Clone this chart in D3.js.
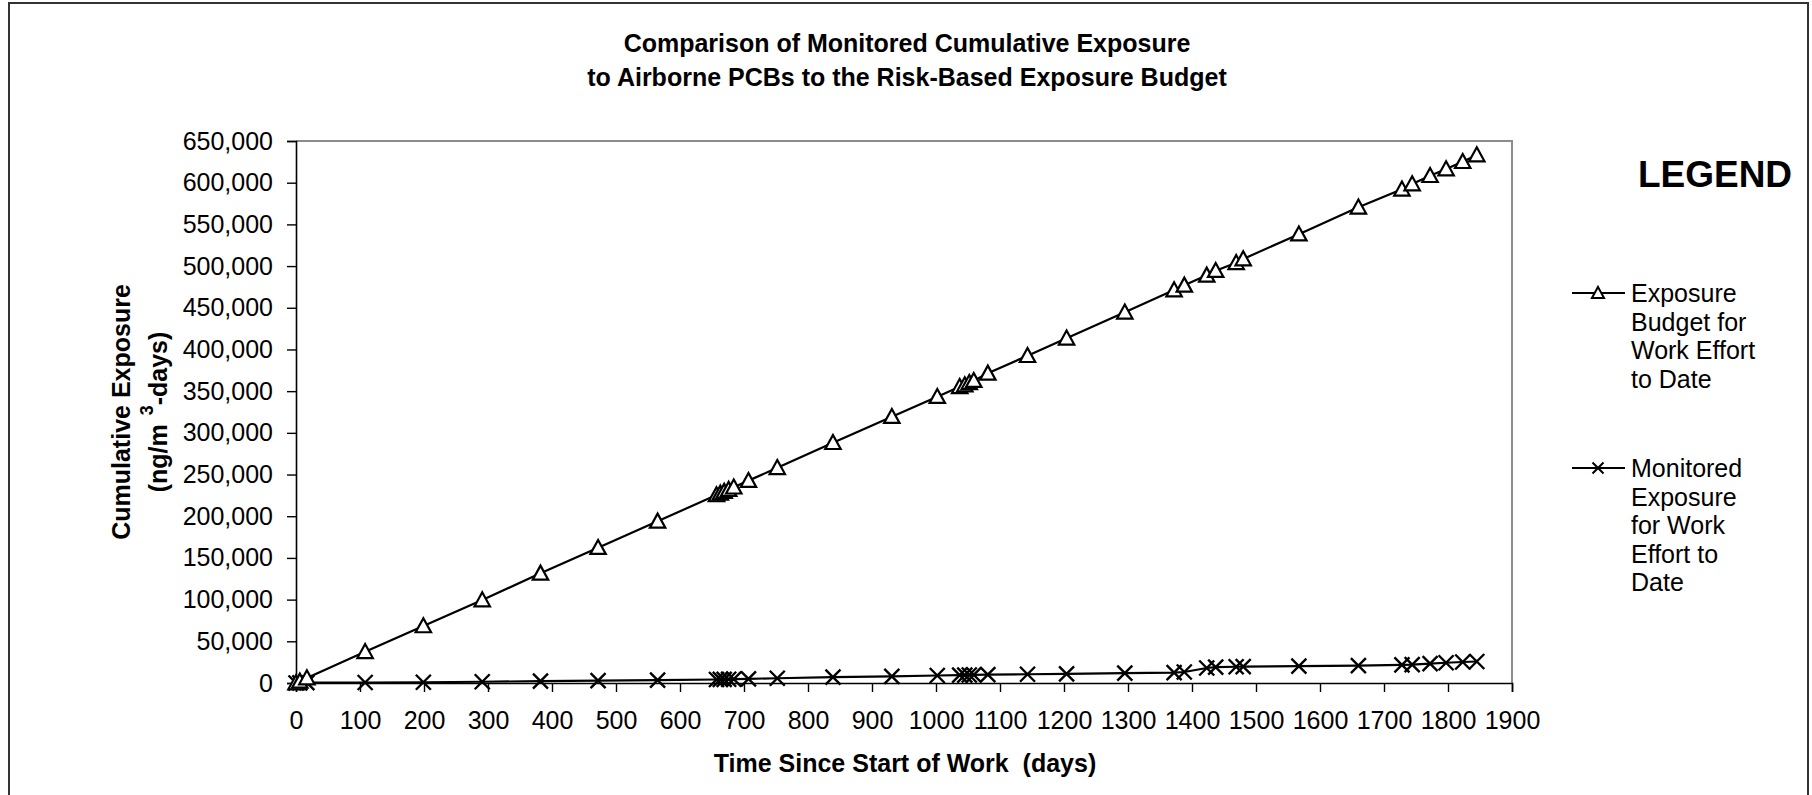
<!DOCTYPE html>
<html>
<head>
<meta charset="utf-8">
<script src="https://cdn.jsdelivr.net/npm/d3@7"></script>
<style>
  html, body { margin: 0; padding: 0; background: #fff; }
  svg { display: block; font-family: "Liberation Sans", Arial, sans-serif; }
</style>
</head>
<body>
<svg id="chart" width="1812" height="795"></svg>
<script>
// Sampling days since start of work
const days = [0, 6, 17, 108, 199, 291, 382, 472, 565, 657, 663, 669, 676, 684, 707, 752, 839, 931,
  1002, 1037, 1045, 1052, 1059, 1081, 1143, 1204, 1295, 1372, 1388, 1423, 1437, 1469, 1480,
  1567, 1660, 1728, 1744, 1772, 1797, 1823, 1845];

// Exposure budget for work effort to date (ng/m3-days)
const budget = [0, 2000, 6000, 37500, 68400, 99500, 131500, 162300, 193900, 225500, 227500, 229600,
  232000, 234800, 242700, 258100, 288200, 319400, 343400, 355300, 357400, 360100, 362600, 371400,
  392500, 413400, 444600, 471300, 476900, 488900, 494500, 504000, 508500, 538300, 570500, 592100,
  598400, 608400, 616400, 625200, 633200];

// Monitored cumulative exposure for work effort to date (ng/m3-days)
const monitored = [0, 200, 400, 600, 900, 1500, 2200, 2800, 3400, 4200, 4300, 4400, 4500, 4600,
  5000, 5700, 7000, 8000, 9000, 9400, 9500, 9600, 9700, 10000, 10500, 11000, 11800, 12500, 13200,
  18000, 19000, 19500, 19700, 20300, 20900, 21700, 22000, 23300, 24300, 25200, 25800];

const xTicks = d3.range(0, 1901, 100);
const yTicks = d3.range(0, 650001, 50000);

const titleLines = ["Comparison of Monitored Cumulative Exposure",
                    "to Airborne PCBs to the Risk-Based Exposure Budget"];
const budgetLegend = ["Exposure", "Budget for", "Work Effort", "to Date"];
const monitoredLegend = ["Monitored", "Exposure", "for Work", "Effort to", "Date"];

const svg = d3.select("#chart");
const plot = { left: 296, right: 1512, top: 141, bottom: 683 };

const x = d3.scaleLinear().domain([0, 1900]).range([plot.left, plot.right]);
const y = d3.scaleLinear().domain([0, 650000]).range([plot.bottom, plot.top]);

// outer chart frame
svg.append("rect")
  .attr("x", 9).attr("y", 3).attr("width", 1799).attr("height", 800)
  .attr("fill", "none").attr("stroke", "#333").attr("stroke-width", 2);

// title
svg.append("g").selectAll("text").data(titleLines).join("text")
  .attr("x", 907).attr("y", (d, i) => 52 + i * 33.5)
  .attr("text-anchor", "middle").attr("font-size", 25).attr("font-weight", "bold")
  .text(d => d);

// plot area border (top/right in grey)
svg.append("path")
  .attr("d", `M${plot.left},${plot.top}H${plot.right}V${plot.bottom}`)
  .attr("fill", "none").attr("stroke", "#8c8c8c").attr("stroke-width", 2);

// axes
const xAxis = d3.axisBottom(x).tickValues(xTicks).tickSize(9).tickPadding(19).tickFormat(d3.format("d"));
const yAxis = d3.axisLeft(y).tickValues(yTicks).tickSize(9).tickPadding(14).tickFormat(d3.format(",d"));

const gx = svg.append("g").attr("transform", `translate(0,${plot.bottom})`).call(xAxis);
const gy = svg.append("g").attr("transform", `translate(${plot.left},0)`).call(yAxis);
[gx, gy].forEach(g => {
  g.select(".domain").attr("stroke", "#000").attr("stroke-width", 1.6);
  g.selectAll(".tick line").attr("stroke", "#000").attr("stroke-width", 1.4);
  g.selectAll(".tick text").attr("font-size", 25).attr("fill", "#000")
    .attr("font-family", "'Liberation Sans', Arial, sans-serif");
});

// axis titles
svg.append("text")
  .attr("x", 905).attr("y", 772)
  .attr("text-anchor", "middle").attr("font-size", 25).attr("font-weight", "bold")
  .style("white-space", "pre")
  .text("Time Since Start of Work  (days)");

const yTitle = svg.append("g").attr("transform", "translate(130,412) rotate(-90)");
yTitle.append("text").attr("x", 0).attr("y", 0)
  .attr("text-anchor", "middle").attr("font-size", 25).attr("font-weight", "bold")
  .text("Cumulative Exposure");
const unit = yTitle.append("text").attr("x", 0).attr("y", 37)
  .attr("text-anchor", "middle").attr("font-size", 25).attr("font-weight", "bold");
unit.append("tspan").text("(ng/m");
unit.append("tspan").attr("dx", 9).attr("dy", -14).attr("font-size", 18).text("3");
unit.append("tspan").attr("dy", 14).text("-days)");

// series
const budgetPts = days.map((d, i) => [d, budget[i]]);
const monitoredPts = days.map((d, i) => [d, monitored[i]]);
const line = d3.line().x(d => x(d[0])).y(d => y(d[1]));

const triPath = s => `M0,${-s * 0.55}L${s * 0.55},${s * 0.45}L${-s * 0.55},${s * 0.45}Z`;
const crossPath = s => `M${-s / 2},${-s / 2}L${s / 2},${s / 2}M${s / 2},${-s / 2}L${-s / 2},${s / 2}`;

svg.append("path").datum(monitoredPts).attr("d", line)
  .attr("fill", "none").attr("stroke", "#000").attr("stroke-width", 2.2);
svg.append("path").datum(budgetPts).attr("d", line)
  .attr("fill", "none").attr("stroke", "#000").attr("stroke-width", 2.2);

svg.append("g").selectAll("path").data(monitoredPts).join("path")
  .attr("transform", d => `translate(${x(d[0])},${y(d[1])})`)
  .attr("d", crossPath(15)).attr("fill", "none").attr("stroke", "#000").attr("stroke-width", 2.4);

svg.append("g").selectAll("path").data(budgetPts).join("path")
  .attr("transform", d => `translate(${x(d[0])},${y(d[1])})`)
  .attr("d", triPath(14)).attr("fill", "#fff").attr("stroke", "#000").attr("stroke-width", 2.2);

// legend
svg.append("text").attr("x", 1715).attr("y", 187)
  .attr("text-anchor", "middle").attr("font-size", 37).attr("font-weight", "bold").text("LEGEND");

const legendItems = [
  { lines: budgetLegend, y0: 293, marker: triPath(11), fill: "#fff" },
  { lines: monitoredLegend, y0: 468, marker: crossPath(11), fill: "none" }
];
legendItems.forEach(item => {
  const g = svg.append("g");
  g.append("line").attr("x1", 1572).attr("x2", 1625).attr("y1", item.y0).attr("y2", item.y0)
    .attr("stroke", "#000").attr("stroke-width", 2);
  g.append("path").attr("transform", `translate(1598,${item.y0})`).attr("d", item.marker)
    .attr("fill", item.fill).attr("stroke", "#000").attr("stroke-width", 2);
  g.selectAll("text").data(item.lines).join("text")
    .attr("x", 1631).attr("y", (d, i) => item.y0 + 9 + i * 28.5)
    .attr("font-size", 25).text(d => d);
});
</script>
</body>
</html>
